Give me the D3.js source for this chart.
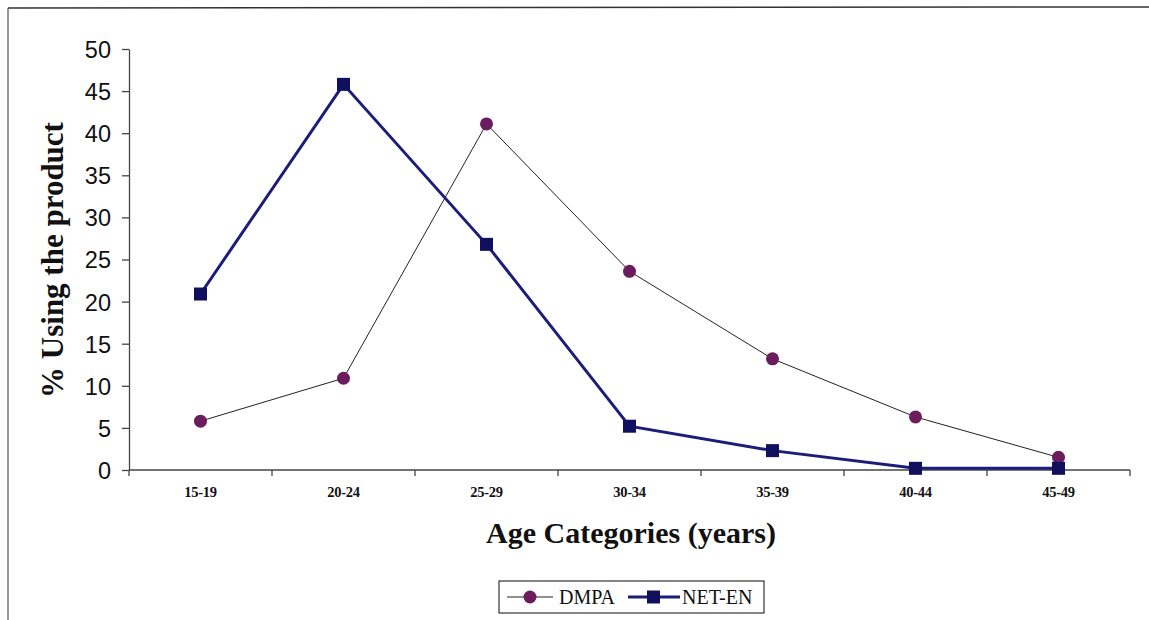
<!DOCTYPE html>
<html>
<head>
<meta charset="utf-8">
<script src="https://cdn.jsdelivr.net/npm/d3@7/dist/d3.min.js"></script>
<style>
  html, body { margin: 0; padding: 0; background: #fff; }
  svg { display: block; }
</style>
</head>
<body>
<svg id="chart" width="1149" height="620"></svg>
<script>
// Age groups and percentage of users of each injectable
const categories = ["15-19", "20-24", "25-29", "30-34", "35-39", "40-44", "45-49"];
const dmpa = [5.8, 10.9, 41.1, 23.6, 13.2, 6.3, 1.5];
const netEn = [20.9, 45.8, 26.8, 5.2, 2.3, 0.2, 0.2];
const yTicks = [0, 5, 10, 15, 20, 25, 30, 35, 40, 45, 50];

const svg = d3.select("#chart");
const plot = { left: 129, right: 1130, top: 49, bottom: 470 };

const x = d3.scaleBand().domain(categories).range([plot.left, plot.right]);
const y = d3.scaleLinear().domain([0, 50]).range([plot.bottom, plot.top]);
const cx = d => x(d) + x.bandwidth() / 2;

// partial frame around the chart area
svg.append("line").attr("x1", 8).attr("x2", 1149).attr("y1", 8).attr("y2", 7)
  .attr("stroke", "#333").attr("stroke-width", 1.5);
svg.append("line").attr("x1", 8).attr("x2", 8).attr("y1", 8).attr("y2", 620)
  .attr("stroke", "#555").attr("stroke-width", 1.2);

// y axis
const yAxis = svg.append("g").attr("transform", `translate(${plot.left},0)`)
  .call(d3.axisLeft(y).tickValues(yTicks).tickSize(7).tickSizeOuter(0));
yAxis.select(".domain").attr("stroke", "#444").attr("stroke-width", 1.3);
yAxis.selectAll(".tick line").attr("stroke", "#444").attr("stroke-width", 1.3);
yAxis.selectAll("text").attr("font-family", "Liberation Sans, Arial, sans-serif")
  .attr("font-size", 23.5).attr("fill", "#111").attr("x", -18).attr("dy", "0.36em");

// x axis with ticks at category boundaries
const xAxis = svg.append("g").attr("transform", `translate(0,${plot.bottom})`);
xAxis.append("line").attr("x1", plot.left).attr("x2", plot.right)
  .attr("stroke", "#444").attr("stroke-width", 1.5);
const bounds = categories.map(c => x(c)).concat([plot.right]);
xAxis.selectAll(".xt").data(bounds).join("line").attr("class", "xt")
  .attr("x1", d => d).attr("x2", d => d).attr("y1", 0).attr("y2", 6)
  .attr("stroke", "#444").attr("stroke-width", 1.3);
xAxis.selectAll(".xl").data(categories).join("text").attr("class", "xl")
  .attr("x", d => cx(d)).attr("y", 27).attr("text-anchor", "middle")
  .attr("font-family", "Liberation Serif, Times New Roman, serif")
  .attr("font-weight", "bold").attr("font-size", 14.5).attr("letter-spacing", -0.3)
  .attr("fill", "#111")
  .text(d => d);

// axis titles
svg.append("text").attr("x", 631).attr("y", 543).attr("text-anchor", "middle")
  .attr("font-family", "Liberation Serif, Times New Roman, serif")
  .attr("font-weight", "bold").attr("font-size", 30).attr("fill", "#111")
  .text("Age Categories (years)");
svg.append("text").attr("transform", "translate(63,260) rotate(-90)")
  .attr("text-anchor", "middle")
  .attr("font-family", "Liberation Serif, Times New Roman, serif")
  .attr("font-weight", "bold").attr("font-size", 31).attr("fill", "#111")
  .text("% Using the product");

const line = d3.line().x((d, i) => cx(categories[i])).y(d => y(d));

// DMPA series: thin dark line, purple circles
svg.append("path").datum(dmpa).attr("d", line)
  .attr("fill", "none").attr("stroke", "#222").attr("stroke-width", 1);
// NET-EN series: thick navy line, navy squares
svg.append("path").datum(netEn).attr("d", line)
  .attr("fill", "none").attr("stroke", "#1c1c7a").attr("stroke-width", 3);

svg.selectAll(".dm").data(dmpa).join("circle").attr("class", "dm")
  .attr("cx", (d, i) => cx(categories[i])).attr("cy", d => y(d)).attr("r", 6.5)
  .attr("fill", "#6a1c5c");
svg.selectAll(".ne").data(netEn).join("rect").attr("class", "ne")
  .attr("x", (d, i) => cx(categories[i]) - 6.5).attr("y", d => y(d) - 6.5)
  .attr("width", 13).attr("height", 13).attr("fill", "#10105e");

// legend
const lg = svg.append("g");
lg.append("rect").attr("x", 499).attr("y", 581).attr("width", 265).attr("height", 32)
  .attr("fill", "#fff").attr("stroke", "#333").attr("stroke-width", 1.2);
lg.append("line").attr("x1", 507).attr("x2", 553).attr("y1", 597).attr("y2", 597)
  .attr("stroke", "#222").attr("stroke-width", 1);
lg.append("circle").attr("cx", 530).attr("cy", 597).attr("r", 6.5).attr("fill", "#6a1c5c");
lg.append("text").attr("x", 559).attr("y", 604)
  .attr("font-family", "Liberation Serif, Times New Roman, serif")
  .attr("font-size", 20).attr("fill", "#111").text("DMPA");
lg.append("line").attr("x1", 628).attr("x2", 680).attr("y1", 597).attr("y2", 597)
  .attr("stroke", "#1c1c7a").attr("stroke-width", 3);
lg.append("rect").attr("x", 647).attr("y", 590.5).attr("width", 13).attr("height", 13)
  .attr("fill", "#10105e");
lg.append("text").attr("x", 682).attr("y", 604)
  .attr("font-family", "Liberation Serif, Times New Roman, serif")
  .attr("font-size", 20).attr("fill", "#111").text("NET-EN");
</script>
</body>
</html>
